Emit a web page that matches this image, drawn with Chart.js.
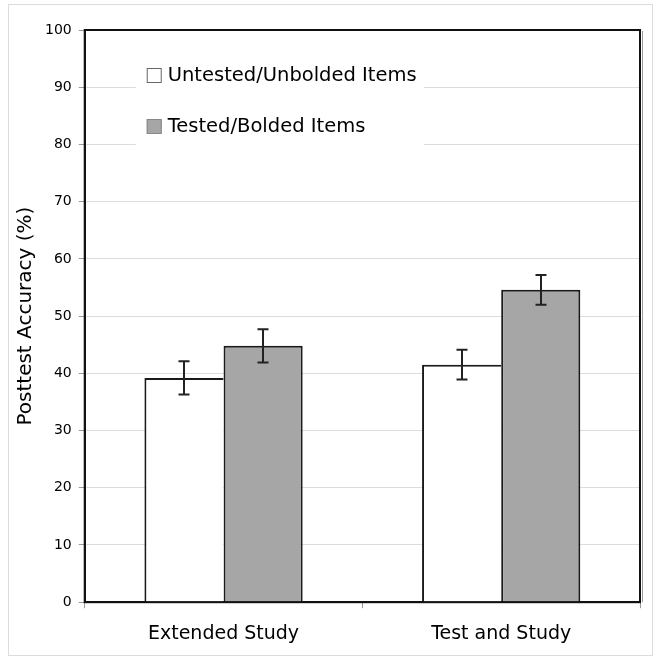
<!DOCTYPE html>
<html>
<head>
<meta charset="utf-8">
<script src="https://cdn.jsdelivr.net/npm/chart.js@4/dist/chart.umd.min.js"></script>
<style>
  html, body { margin: 0; padding: 0; background: #fff; }
  #wrap { width: 654px; height: 659px; position: relative; }
</style>
</head>
<body>
<div id="wrap"><canvas id="c"></canvas></div>
<script>
const categories = ['Extended Study', 'Test and Study'];
const seriesNames = ['Untested/Unbolded Items', 'Tested/Bolded Items'];
const untested = [39.2, 41.5];
const tested = [44.8, 54.6];
const untestedErr = [2.9, 2.6];
const testedErr = [2.9, 2.6];
const yTicks = [0, 10, 20, 30, 40, 50, 60, 70, 80, 90, 100];

const FONT = "'DejaVu Sans', Verdana, sans-serif";

// outer frame around the whole figure
const framePlugin = {
  id: 'frame',
  beforeDraw(chart) {
    const ctx = chart.ctx;
    ctx.save();
    ctx.fillStyle = '#fff';
    ctx.fillRect(0, 0, chart.width, chart.height);
    ctx.strokeStyle = '#dcdcdc';
    ctx.lineWidth = 1;
    ctx.strokeRect(8.5, 4.5, chart.width - 10, chart.height - 8);
    ctx.restore();
  },
  afterDatasetsDraw(chart) {
    // plot box: black border with a faint shadow on the right edge
    const { ctx, chartArea: a } = chart;
    ctx.save();
    ctx.strokeStyle = '#999';
    ctx.lineWidth = 1;
    ctx.beginPath();
    ctx.moveTo(a.right + 2.5, a.top + 1);
    ctx.lineTo(a.right + 2.5, a.bottom);
    ctx.stroke();
    ctx.strokeStyle = '#111';
    ctx.lineWidth = 2;
    ctx.strokeRect(a.left, a.top, a.right - a.left, a.bottom - a.top);
    ctx.restore();
  }
};

// error bars drawn through the value scale
const errorBarPlugin = {
  id: 'errorBars',
  afterDatasetsDraw(chart) {
    const ctx = chart.ctx;
    const y = chart.scales.y;
    ctx.save();
    ctx.strokeStyle = '#222';
    ctx.lineWidth = 2;
    chart.data.datasets.forEach((ds, di) => {
      const meta = chart.getDatasetMeta(di);
      meta.data.forEach((bar, i) => {
        const v = ds.data[i];
        const e = ds.errors[i];
        const yHi = y.getPixelForValue(v + e);
        const yLo = y.getPixelForValue(v - e);
        const x = Math.round(bar.x);
        const cap = 5.5;
        ctx.beginPath();
        ctx.moveTo(x, yHi); ctx.lineTo(x, yLo);
        ctx.moveTo(x - cap, yHi); ctx.lineTo(x + cap, yHi);
        ctx.moveTo(x - cap, yLo); ctx.lineTo(x + cap, yLo);
        ctx.stroke();
      });
    });
    ctx.restore();
  }
};

// legend box placed inside the plot, covering the grid lines behind it
const insetLegendPlugin = {
  id: 'insetLegend',
  beforeDatasetsDraw(chart) {
    const { ctx, chartArea: a } = chart;
    ctx.save();
    ctx.fillStyle = '#fff';
    ctx.fillRect(a.left + 51, a.top + 26, 288, 94);
    ctx.font = '19.5px ' + FONT;
    ctx.textBaseline = 'middle';
    chart.data.datasets.forEach((ds, i) => {
      const bx = a.left + 62;
      const by = a.top + 38 + i * 51;
      ctx.fillStyle = ds.backgroundColor;
      ctx.fillRect(bx, by, 15, 15);
      ctx.strokeStyle = i === 0 ? '#666' : '#888';
      ctx.lineWidth = 1;
      ctx.strokeRect(bx + 0.5, by + 0.5, 14, 14);
      ctx.fillStyle = '#000';
      ctx.fillText(ds.label, bx + 21, by + 8);
    });
    ctx.restore();
  }
};

new Chart(document.getElementById('c'), {
  type: 'bar',
  data: {
    labels: categories,
    datasets: [
      { label: seriesNames[0], data: untested, errors: untestedErr,
        backgroundColor: '#ffffff', borderColor: '#1a1a1a',
        borderWidth: { top: 2, left: 2, right: 0, bottom: 0 },
        borderSkipped: false, inflateAmount: 0 },
      { label: seriesNames[1], data: tested, errors: testedErr,
        backgroundColor: '#a6a6a6', borderColor: '#1a1a1a',
        borderWidth: { top: 2, left: 2, right: 2, bottom: 0 },
        borderSkipped: false, inflateAmount: 0 }
    ]
  },
  options: {
    responsive: true,
    maintainAspectRatio: false,
    animation: false,
    devicePixelRatio: 1,
    layout: { padding: { left: 14, right: 14, top: 30, bottom: 0 } },
    datasets: { bar: { categoryPercentage: 0.57, barPercentage: 1.0 } },
    plugins: { legend: { display: false }, tooltip: { enabled: false } },
    scales: {
      x: {
        grid: { offset: true, drawOnChartArea: false, drawTicks: true, tickLength: 6, color: '#999' },
        border: { display: true, color: '#111', width: 2 },
        ticks: { color: '#000', font: { family: FONT, size: 19 }, padding: 14 }
      },
      y: {
        min: 0, max: 100,
        afterBuildTicks(scale) { scale.ticks = yTicks.map(v => ({ value: v })); },
        grid: { color: '#dcdcdc', lineWidth: 1, drawTicks: true, tickLength: 6, tickColor: '#999' },
        border: { display: true, color: '#111', width: 2 },
        ticks: { color: '#000', font: { family: FONT, size: 14 }, padding: 7 },
        title: { display: true, text: 'Posttest Accuracy (%)', color: '#000',
                 font: { family: FONT, size: 20 }, padding: { top: 0, bottom: 0 } }
      }
    }
  },
  plugins: [framePlugin, errorBarPlugin, insetLegendPlugin]
});
</script>
</body>
</html>
